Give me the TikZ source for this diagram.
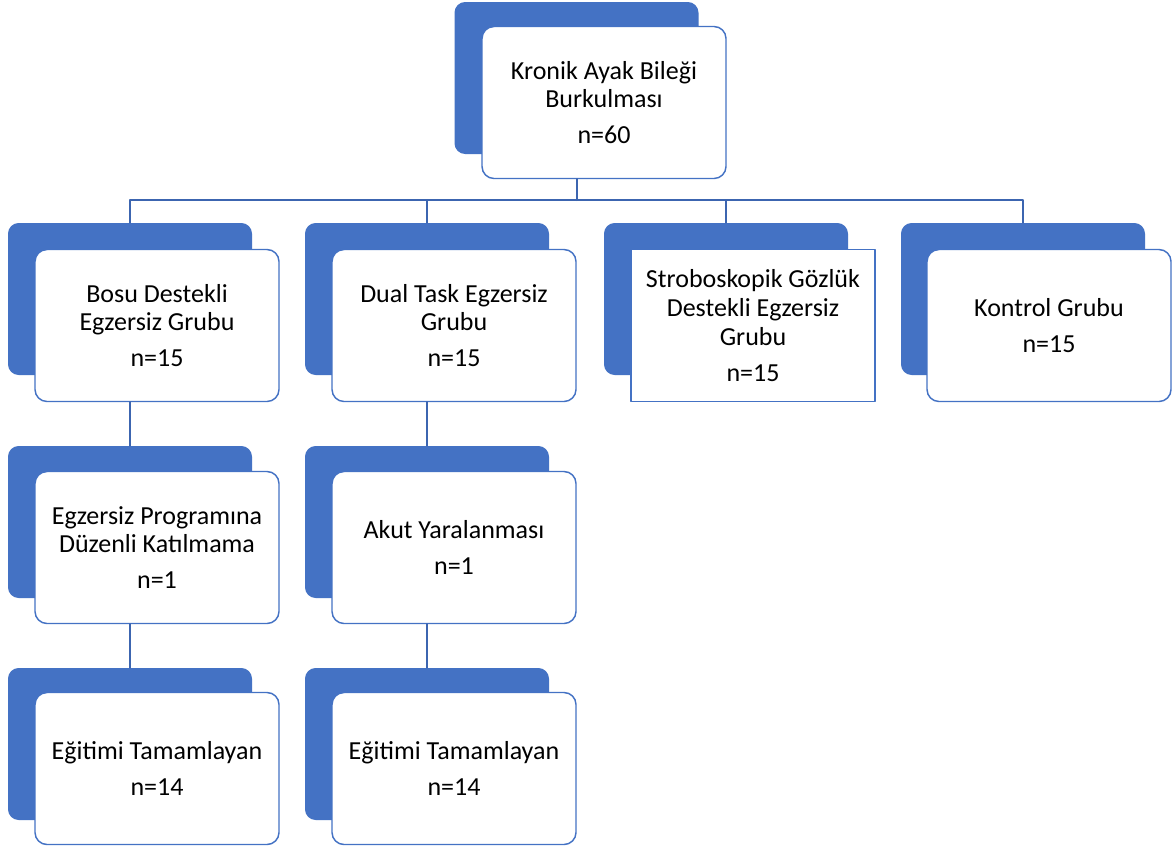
\documentclass[tikz,border=0pt]{standalone}
\usepackage{fontspec}
\setmainfont{Carlito}
\usepackage{xcolor}
\usepackage{tikz}
\definecolor{custom_blue}{HTML}{4472C4}
\definecolor{line_blue}{HTML}{3C65B0}

\begin{document}
\begin{tikzpicture}[
                x=0.75pt,
                y=-0.75pt,
                line cap=round,
                line join=round,
                backbox/.style={fill=custom_blue, rounded corners=8pt, minimum width=183pt, minimum height=114pt, inner sep=0pt},
                frontbox/.style={draw=custom_blue, line width=1.1pt, fill=white, rounded corners=9pt, minimum width=183pt, minimum height=114pt, inner sep=0pt, align=center, font=\fontsize{19.5}{21.5}\selectfont},
                frontsq/.style={frontbox, sharp corners},
                link/.style={draw=line_blue, line width=1.5pt},
            ]
            % Canvas
            \fill[white] (0,0) rectangle (1172,850);
            \useasboundingbox (0,0) rectangle (1172,850);
            \coordinate (bus) at (0,200);

            % Top box
            \node[backbox] (topB) at (576.5,78) {};
            \node[frontbox] (top) at (604,102.5) {Kronik Ayak Bileği\\Burkulması\\[5.5pt]n=60};

            % Groups
            \node[backbox] (bosuB) at (130,299) {};
            \node[frontbox] (bosu) at (157,325.5) {Bosu Destekli\\Egzersiz Grubu\\[5.5pt]n=15};
            \node[backbox] (dualB) at (427,299) {};
            \node[frontbox] (dual) at (454,325.5) {Dual Task Egzersiz\\Grubu\\[5.5pt]n=15};
            \node[backbox] (stroboB) at (726,299) {};
            \node[frontsq] (strobo) at (753,325.5) {Stroboskopik Gözlük\\Destekli Egzersiz\\Grubu\\[5.5pt]n=15};
            \node[backbox] (kontrolB) at (1023,299) {};
            \node[frontbox] (kontrol) at (1049,325.5) {Kontrol Grubu\\[5.5pt]n=15};

            % Drop outs
            \node[backbox] (progB) at (130,522) {};
            \node[frontbox] (prog) at (157,547.5) {Egzersiz Programına\\Düzenli Katılmama\\[5.5pt]n=1};
            \node[backbox] (akutB) at (427,522) {};
            \node[frontbox] (akut) at (454,547.5) {Akut Yaralanması\\[5.5pt]n=1};

            % Completed
            \node[backbox] (egitBosuB) at (130,744) {};
            \node[frontbox] (egitBosu) at (157,768.5) {Eğitimi Tamamlayan\\[5.5pt]n=14};
            \node[backbox] (egitDualB) at (427,744) {};
            \node[frontbox] (egitDual) at (454,768.5) {Eğitimi Tamamlayan\\[5.5pt]n=14};

            % Connectors
            \draw[link] (topB.south |- top.south) -- (topB.south |- bus);
            \draw[link] (bosuB.north) |- (kontrolB.north |- bus) -- (kontrolB.north);
            \draw[link] (dualB.north) -- (dualB.north |- bus);
            \draw[link] (stroboB.north) -- (stroboB.north |- bus);
            \draw[link] (bosuB.south |- bosu.south) -- (progB.north);
            \draw[link] (dualB.south |- dual.south) -- (akutB.north);
            \draw[link] (progB.south |- prog.south) -- (egitBosuB.north);
            \draw[link] (akutB.south |- akut.south) -- (egitDualB.north);
        \end{tikzpicture}
\end{document}
